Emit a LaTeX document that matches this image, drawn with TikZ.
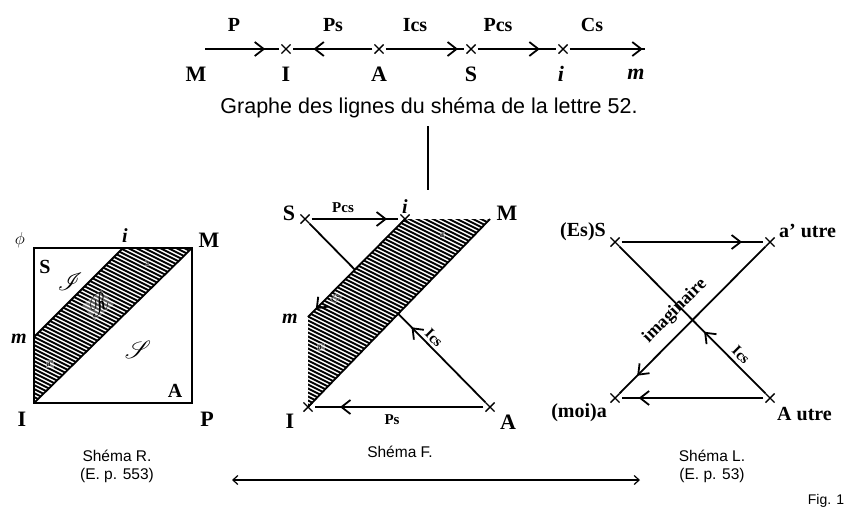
\documentclass[tikz,border=0pt]{standalone}
\usepackage{fontspec}
\setmainfont{Liberation Serif}
\newfontfamily\capfont{Liberation Sans}
\usepackage{mathrsfs}
\usetikzlibrary{arrows.meta,decorations.markings}
\pgfdeclarelayer{bg}
\pgfsetlayers{bg,main}
\begin{document}
\begin{tikzpicture}[x=1pt,y=-1pt,
  ln/.style={line width=1.8pt},
  thin ln/.style={line width=1.2pt},
  hatch/.style={line width=1.9pt},
  xm/.style={circle, minimum size=13pt, inner sep=0pt,
    path picture={\draw[line width=1.4pt]
      (path picture bounding box.south west) -- (path picture bounding box.north east)
      (path picture bounding box.north west) -- (path picture bounding box.south east);}},
  arr/.style={postaction={decorate}, decoration={markings,
    mark=at position #1 with {\arrow{Straight Barb[length=9pt,width=14pt]}}}},
  lab/.style={font=\bfseries\fontsize{20}{22}\selectfont, inner sep=0pt},
  big/.style={font=\bfseries\fontsize{22}{24}\selectfont, inner sep=0pt},
  sm/.style={font=\bfseries\fontsize{15}{17}\selectfont, inner sep=0pt},
  tinyl/.style={font=\fontsize{9}{10}\selectfont, inner sep=0pt},
  captxt/.style={font=\capfont\fontsize{15.5}{18}\selectfont, inner sep=0pt, align=center},
  scr/.style={inner sep=0pt, font=\fontsize{26}{28}\selectfont}
]
\useasboundingbox (0,0) rectangle (848,515);

% ---------- top graph ----------
\coordinate (tM0) at (205,49);
\node[xm] (tI) at (286,49) {};
\node[xm] (tA) at (379,49) {};
\node[xm] (tS) at (471,49) {};
\node[xm] (ti) at (563,49) {};
\coordinate (tm0) at (645,49);
\draw[ln, arr=0.81] (tM0) -- (tI);
\draw[ln, arr=0.74] (tA) -- (tI);
\draw[ln, arr=0.92] (tA) -- (tS);
\draw[ln, arr=0.79] (tS) -- (ti);
\draw[ln, arr=0.97] (ti) -- (tm0);
\node[lab] (tlP) at (234,25) {P};
\node[lab] (tlPs) at (333,25) {Ps};
\node[lab] (tlIcs) at (415,25) {Ics};
\node[lab] (tlPcs) at (498,25) {Pcs};
\node[lab] (tlCs) at (592,25) {Cs};
\node[big] (tlM) at (196,74) {M};
\node[big] (tlI) at (286,74) {I};
\node[big] (tlA) at (379,74) {A};
\node[big] (tlS) at (471,74) {S};
\node[big] (tli) at (561,74) {\textit{i}};
\node[big] (tlm) at (636,74) {\textit{m}};
\node[inner sep=0pt, font=\capfont\fontsize{21.5}{23}\selectfont] (gcap) at (429,108) {Graphe des lignes du shéma de la lettre 52.};
\coordinate (vt) at (428,126);
\coordinate (vb) at (428,190);
\draw[thin ln] (vt) -- (vb);

% ---------- Schema R ----------
\coordinate (Rphi) at (34,248);
\coordinate (RM) at (192,248);
\coordinate (RP) at (192,403);
\coordinate (RI) at (34,403);
\coordinate (Ri) at (123,248);
\coordinate (Rm) at (34,337);
\begin{scope}
  \clip (Ri) -- (RM) -- (RI) -- (Rm) -- cycle;
  \foreach \c in {130,134,...,420} \draw[hatch] (28,\c) -- (200,{\c+86});
\end{scope}
\draw[ln] (Rphi) rectangle (RP);
\draw[ln] (Ri) -- (Rm);
\draw[ln] (RM) -- (RI);
\node[inner sep=0pt, font=\fontsize{19}{20}\selectfont] (Rlphi) at (20,240) {$\phi$};
\node[lab] (Rli) at (125,236) {\textit{i}};
\node[big] (RlM) at (209,240) {M};
\node[lab] (RlS) at (45,267) {S};
\node[lab] (Rlm) at (19,339) {\textit{m}};
\node[big] (RlI) at (22,419) {I};
\node[big] (RlP) at (207,419) {P};
\node[lab] (RlA) at (175,391) {A};
\node[scr] (RlJ) at (70,282) {$\mathscr{I}$};
\node[scr] (RlSS) at (138,350) {$\mathscr{S}$};
\node[scr, rotate=40, fill=white, inner sep=1pt, fill opacity=0.35, text opacity=1] (RlR) at (98,305) {$\mathscr{R}$};
\node[tinyl, fill=white, fill opacity=0.4, text opacity=1, inner sep=0.5pt] (Rla) at (147,263) {a};
\node[tinyl, fill=white, fill opacity=0.4, text opacity=1, inner sep=0.5pt] (Rla2) at (50,364) {a’};

% ---------- Schema F ----------
\node[xm] (FS) at (305,219) {};
\node[xm] (Fi) at (405,219) {};
\coordinate (FM) at (490,219);
\coordinate (Fm) at (308,317);
\node[xm] (FI) at (308,407) {};
\node[xm] (FA) at (490,407) {};
\begin{pgfonlayer}{bg}
  \draw[ln, arr=0.42] (FA) -- (FS);
  \fill[white] (Fi.center) -- (FM) -- (FI.center) -- (Fm) -- cycle;
  \begin{scope}
    \clip (Fi.center) -- (FM) -- (FI.center) -- (Fm) -- cycle;
    \foreach \c in {90,94,...,420} \draw[hatch] (295,\c) -- (505,{\c+105});
  \end{scope}
\end{pgfonlayer}
\draw[ln, arr=0.87] (FS) -- (Fi);
\draw[ln, arr=0.92] (Fi.center) -- (Fm);
\draw[ln] (FM) -- (FI.center);
\draw[ln, arr=0.85] (FA) -- (FI);
\node[big] (FlS) at (289,213) {S};
\node[lab] (Fli) at (405,207) {\textit{i}};
\node[big] (FlM) at (507,213) {M};
\node[lab] (Flm) at (290,319) {\textit{m}};
\node[big] (FlI) at (290,421) {I};
\node[big] (FlA) at (508,422) {A};
\node[sm] (FlPcs) at (343,208) {Pcs};
\node[sm] (FlPs) at (392,420) {Ps};
\node[sm, rotate=-45] (FlIcs) at (434,338) {Ics};
\node[tinyl, fill=white, fill opacity=0.4, text opacity=1, inner sep=0.5pt] (Fla) at (442,235) {a};
\node[tinyl, fill=white, fill opacity=0.4, text opacity=1, inner sep=0.5pt] (Fla2) at (321,347) {a’};
\node[tinyl, rotate=45, fill=white, fill opacity=0.4, text opacity=1, inner sep=0.5pt] (FlCs) at (336,298) {Cs};

% ---------- Schema L ----------
\node[xm] (LS) at (615,242) {};
\node[xm] (Lao) at (770,242) {};
\node[xm] (La) at (615,398) {};
\node[xm] (LA) at (770,398) {};
\draw[ln, arr=0.85] (LS) -- (Lao);
\draw[ln, arr=0.88] (Lao) -- (La);
\draw[ln, arr=0.42] (LA) -- (LS);
\draw[ln, arr=0.88] (LA) -- (La);
\node[lab, anchor=east] (LlS) at (606,232) {(Es)S};
\node[lab, anchor=west] (Llao) at (779,231) {a’ utre};
\node[lab, anchor=east] (Lla) at (607,413) {(moi)a};
\node[lab, anchor=west] (LlA) at (777,414) {A utre};
\node[sm, rotate=45, font=\bfseries\fontsize{18}{20}\selectfont] (Llim) at (675,311) {imaginaire};
\node[sm, rotate=-45] (LlIcs) at (741,355) {Ics};

% ---------- captions ----------
\node[captxt] (cR) at (117,466) {Shéma R.\\(E. p. 553)};
\node[captxt, anchor=north] (cF) at (400,446) {Shéma F.};
\node[captxt] (cL) at (712,466) {Shéma L.\\(E. p. 53)};
\coordinate (dl) at (232,480);
\coordinate (dr) at (640,480);
\draw[thin ln, {Straight Barb[length=5pt,width=9pt]}-{Straight Barb[length=5pt,width=9pt]}] (dl) -- (dr);
\node[captxt, font=\capfont\fontsize{14}{16}\selectfont] (fig) at (826,501) {Fig. 1};
\end{tikzpicture}
\end{document}
